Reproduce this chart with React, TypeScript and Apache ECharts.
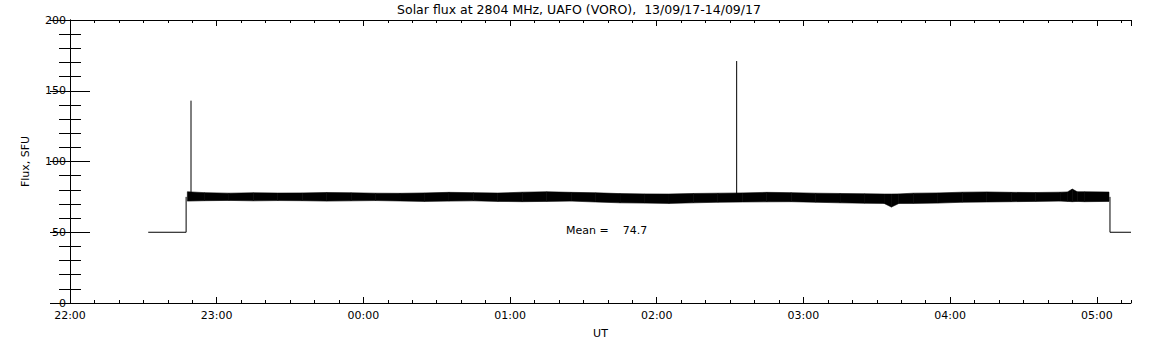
import React, { useEffect, useRef } from "react";
import * as echarts from "echarts";

// ---- data (minutes after 22:00 UT, flux in SFU) ----
const titleText = "Solar flux at 2804 MHz, UAFO (VORO),  13/09/17-14/09/17";
const meanText = "Mean =    74.7";

// envelope of the noisy flux band
const envTime = [48, 55, 65, 75, 85, 95, 105, 115, 125, 135, 145, 155, 165, 175, 185, 195, 205, 215, 225, 235, 245, 255, 265, 275, 285, 295, 305, 315, 325, 333, 336, 339, 345, 355, 365, 375, 385, 395, 405, 408, 410, 412, 415, 425];
const envUpper = [78.6, 78.0, 77.6, 77.9, 77.7, 77.8, 78.1, 77.9, 77.6, 77.5, 77.8, 78.2, 78.0, 77.7, 78.3, 78.6, 78.2, 77.9, 77.3, 77.1, 77.0, 77.4, 77.6, 77.8, 78.2, 78.0, 77.6, 77.4, 77.2, 77.0, 77.0, 77.1, 77.6, 77.8, 78.3, 78.5, 78.2, 78.1, 78.3, 78.5, 80.5, 78.6, 78.6, 78.4];
const envLower = [72.0, 72.3, 72.5, 72.2, 72.4, 72.3, 72.0, 72.2, 72.4, 72.1, 71.8, 72.0, 72.2, 71.8, 71.6, 71.8, 72.0, 71.4, 70.8, 70.6, 70.4, 70.8, 71.2, 71.4, 71.5, 71.6, 71.2, 70.8, 70.5, 70.4, 67.8, 70.3, 70.4, 70.6, 71.2, 71.4, 71.6, 71.8, 72.0, 71.8, 71.6, 71.8, 71.6, 71.8];

// baseline (calibration) segments
const startSegment: [number, number][] = [[32, 50], [47.5, 50], [47.5, 75]];
const endSegment: [number, number][] = [[425.4, 75], [425.4, 50], [434, 50]];

// spikes
const spikeTimes = [49.5, 272.7];
const spikeBase = [76, 76];
const spikePeaks = [143, 171];

// axes
const xMin = 0;
const xMax = 434;
const yMin = 0;
const yMax = 200;

const FONT = "DejaVu Sans";

function fmtTime(v: number): string {
  const total = (22 * 60 + Math.round(v)) % (24 * 60);
  const h = Math.floor(total / 60);
  const m = total % 60;
  return String(h).padStart(2, "0") + ":" + String(m).padStart(2, "0");
}

export default function App() {
  const ref = useRef<HTMLDivElement>(null);
  useEffect(() => {
    if (!ref.current) return;
    const chart = echarts.init(ref.current, undefined, { renderer: "svg" });
    const black = "#000";
    const bandData = envTime.map((t, i) => [t, envUpper[i], envLower[i]]);
    const n = bandData.length;

    const xBase = {
      type: "value" as const,
      min: xMin,
      max: xMax,
      splitLine: { show: false },
      minorSplitLine: { show: false },
    };
    const yBase = {
      type: "value" as const,
      min: yMin,
      max: yMax,
      interval: 50,
      splitLine: { show: false },
      minorSplitLine: { show: false },
    };

    const lineSeries = (data: number[][]) => ({
      type: "line",
      data,
      symbol: "none",
      lineStyle: { color: black, width: 1 },
      silent: true,
      z: 3,
    });

    chart.setOption({
      animation: false,
      backgroundColor: "#fff",
      grid: { left: 70, right: 21, top: 20, bottom: 42, containLabel: false },
      graphic: [
        {
          type: "text",
          x: 579,
          y: 9,
          style: {
            text: titleText,
            fill: black,
            font: `12.5px "${FONT}"`,
            textAlign: "center",
            textVerticalAlign: "middle",
          },
        },
        {
          type: "text",
          x: 566,
          y: 230,
          style: {
            text: meanText,
            fill: black,
            font: `11px "${FONT}"`,
            textAlign: "left",
            textVerticalAlign: "middle",
          },
        },
      ],
      xAxis: [
        {
          ...xBase,
          position: "bottom",
          interval: 60,
          name: "UT",
          nameLocation: "middle",
          nameGap: 25,
          nameTextStyle: { color: black, fontFamily: FONT, fontSize: 11 },
          axisLine: { show: true, lineStyle: { color: black, width: 1 } },
          axisTick: { show: true, inside: true, length: 6, lineStyle: { color: black } },
          axisLabel: {
            show: true,
            margin: 7,
            color: black,
            fontFamily: FONT,
            fontSize: 11,
            showMaxLabel: false,
            formatter: (v: number) => fmtTime(v),
          },
        },
        {
          ...xBase,
          position: "bottom",
          interval: 10,
          axisLine: { show: false },
          axisTick: { show: true, inside: true, length: 3, lineStyle: { color: black } },
          axisLabel: { show: false },
        },
        {
          ...xBase,
          position: "top",
          interval: 60,
          axisLine: { show: true, lineStyle: { color: black, width: 1 } },
          axisTick: { show: true, inside: true, length: 6, lineStyle: { color: black } },
          axisLabel: { show: false },
        },
        {
          ...xBase,
          position: "top",
          interval: 10,
          axisLine: { show: false },
          axisTick: { show: true, inside: true, length: 3, lineStyle: { color: black } },
          axisLabel: { show: false },
        },
      ],
      yAxis: [
        {
          ...yBase,
          position: "left",
          name: "Flux, SFU",
          nameLocation: "middle",
          nameGap: 39,
          nameTextStyle: { color: black, fontFamily: FONT, fontSize: 11 },
          axisLine: { show: true, lineStyle: { color: black, width: 1 } },
          axisTick: { show: true, inside: true, length: 20, lineStyle: { color: black } },
          minorTick: { show: true, splitNumber: 5, length: 11, lineStyle: { color: black } },
          axisLabel: { show: true, margin: 4, color: black, fontFamily: FONT, fontSize: 11 },
        },
        {
          ...yBase,
          position: "right",
          axisLine: { show: true, lineStyle: { color: black, width: 1 } },
          axisTick: { show: true, inside: true, length: 20, lineStyle: { color: black } },
          minorTick: { show: true, splitNumber: 5, length: 11, lineStyle: { color: black } },
          axisLabel: { show: false },
        },
      ],
      series: [
        {
          type: "custom",
          xAxisIndex: 0,
          yAxisIndex: 0,
          data: bandData,
          encode: { x: 0, y: [1, 2] },
          silent: true,
          z: 2,
          renderItem: (params: any, api: any) => {
            const i = params.dataIndex;
            if (i >= n - 1) return null;
            const a = bandData[i];
            const b = bandData[i + 1];
            const p1 = api.coord([a[0], a[1]]);
            const p2 = api.coord([b[0], b[1]]);
            const p3 = api.coord([b[0], b[2]]);
            const p4 = api.coord([a[0], a[2]]);
            return {
              type: "polygon",
              shape: { points: [p1, p2, p3, p4] },
              style: { fill: black, stroke: black, lineWidth: 0.6 },
            };
          },
        },
        lineSeries(startSegment),
        lineSeries(endSegment),
        ...spikeTimes.map((t, i) =>
          lineSeries([
            [t, spikeBase[i]],
            [t, spikePeaks[i]],
          ])
        ),
      ],
    });
    return () => chart.dispose();
  }, []);
  return (
    <div
      ref={ref}
      style={{ position: "fixed", left: 0, top: 0, width: 1152, height: 345, background: "#fff" }}
    />
  );
}
